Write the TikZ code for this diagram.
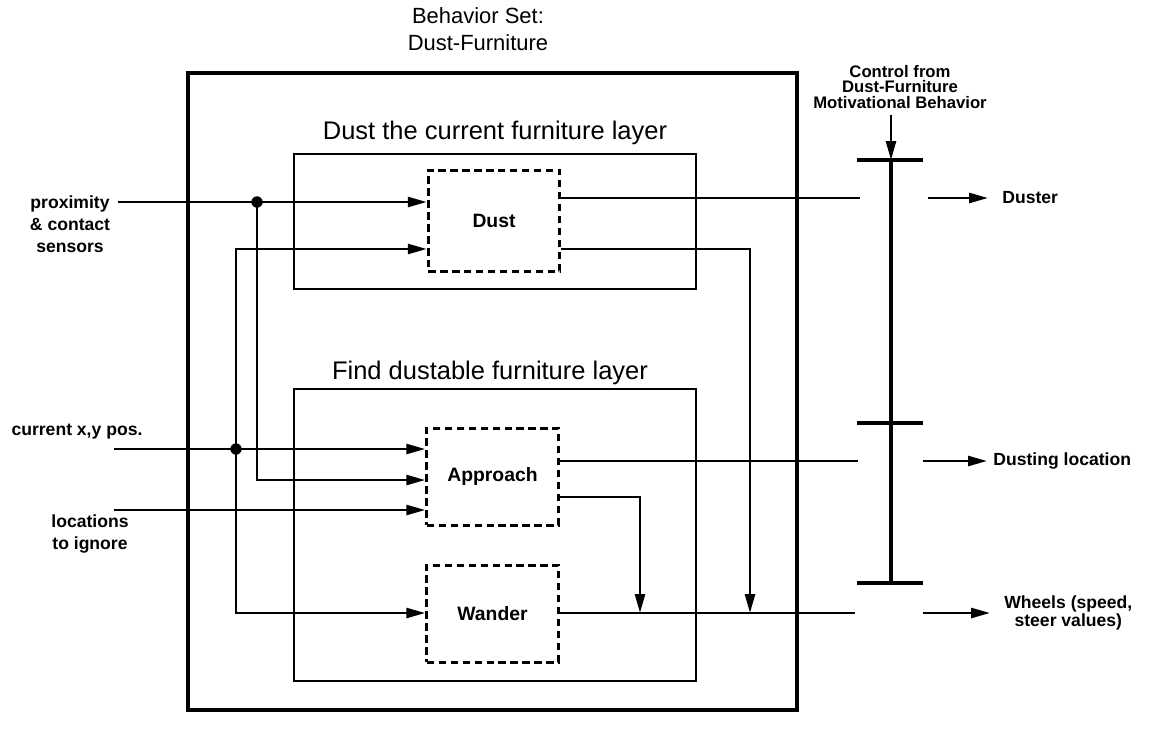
\documentclass[tikz,border=0pt]{standalone}
\usepackage{fontspec}
\setmainfont{Liberation Sans}
\usetikzlibrary{arrows.meta}
\tikzset{
  diagram/.style={x=0.2mm,y=-0.2mm},
  setbox/.style={draw,line width=2.8pt,minimum width=121.8mm,minimum height=127.4mm},
  layerbox/.style={draw,line width=1.3pt,minimum width=80.4mm},
  behaviour/.style={draw,line width=1.7pt,dash pattern=on 4.2pt off 2.6pt,
    minimum width=26.3mm,font=\bfseries\fontsize{11}{13}\selectfont},
  heading/.style={font=\fontsize{14.5}{17}\selectfont},
  signal/.style={font=\bfseries\fontsize{10}{12.5}\selectfont,align=center},
  wire/.style={line width=1.5pt},
  flow/.style={wire,-{Triangle[length=3.8mm,width=2mm]}},
  bar/.style={line width=2.3pt},
  tap/.style={circle,fill,inner sep=0pt,minimum size=6.5pt},
}

\begin{document}
\begin{tikzpicture}[diagram]
  \useasboundingbox (0,0) rectangle (1150,735);

  % behavior set and its two layers
  \node[font=\fontsize{12.5}{15}\selectfont,align=center] (settitle) at (478,29)
    {Behavior Set:\\Dust-Furniture};
  \node[setbox] (outer) at (492.5,391.5) {};
  \node[heading] (dusttitle) at (495,133) {Dust the current furniture layer};
  \node[layerbox,minimum height=27mm] (dustlayer) at (495,221.5) {};
  \node[heading] (findtitle) at (490,373) {Find dustable furniture layer};
  \node[layerbox,minimum height=58.4mm] (findlayer) at (495,535) {};

  \node[behaviour,minimum height=20.2mm] (dust) at (494,220.5) {Dust};
  \node[behaviour,minimum height=19.4mm] (approach) at (492.5,476.5) {Approach};
  \node[behaviour,minimum height=19.4mm] (wander) at (492.5,613.5) {Wander};

  % sensor inputs
  \node[signal] (proxlabel) at (70,224) {proximity\\\& contact\\sensors};
  \node[signal] (poslabel) at (77,432) {current x,y pos.};
  \node[signal] (loclabel) at (90,534) {locations\\to ignore};
  \coordinate (proxin) at (118,202);
  \coordinate (posin) at (114,449);
  \coordinate (locin) at (114,510);
  \node[tap] (proxtap) at (257,202) {};
  \node[tap] (postap) at (236,449) {};

  \draw[flow] (proxin) -- (proxin -| dust.west);
  \draw[flow] (proxtap.center) |- (approach.west |- 0,480);
  \draw[flow] (posin) -- (posin -| approach.west);
  \draw[flow] (postap.center) |- (dust.west |- 0,249);
  \draw[flow] (postap.center) |- (wander.west |- 0,613);
  \draw[flow] (locin) -- (locin -| approach.west);

  % behavior outputs
  \coordinate (dusterstop) at (860,198);
  \coordinate (locstop) at (858,461);
  \coordinate (wheelstop) at (855,613);
  \coordinate (dustmerge) at (750,613);
  \coordinate (approachmerge) at (640,613);
  \draw[wire] (dusterstop -| dust.east) -- (dusterstop);
  \draw[flow] (dust.east |- 0,249) -| (dustmerge);
  \draw[wire] (locstop -| approach.east) -- (locstop);
  \draw[flow] (approach.east |- 0,497) -| (approachmerge);
  \draw[wire] (wheelstop -| wander.east) -- (wheelstop);

  % control switch
  \node[signal,font=\bfseries\fontsize{9.5}{8.8}\selectfont] (ctrllabel) at (900,87)
    {Control from\\Dust-Furniture\\Motivational Behavior};
  \coordinate (ctop) at (891,160);
  \coordinate (cmid) at (891,423);
  \coordinate (cbot) at (891,583);
  \draw[flow] (ctrllabel.south -| ctop) -- (ctop);
  \draw[bar] (ctop) -- (cbot);
  \foreach \gate in {ctop,cmid,cbot}
    \draw[bar] ([xshift=-6.8mm]\gate) -- ([xshift=6.4mm]\gate);

  % outputs of the set
  \node[signal,anchor=west,inner xsep=2.8mm] (duster) at (988,198) {Duster};
  \node[signal,anchor=west,inner xsep=1.2mm] (dustloc) at (987,461) {Dusting location};
  \node[signal,anchor=west,inner xsep=2.8mm,font=\bfseries\fontsize{10}{10.5}\selectfont]
    (wheels) at (990,613) {Wheels (speed,\\steer values)};
  \coordinate (dusterfrom) at (928,198);
  \coordinate (dustlocfrom) at (923,461);
  \coordinate (wheelsfrom) at (923,613);
  \draw[flow] (dusterfrom) -- (duster.west);
  \draw[flow] (dustlocfrom) -- (dustloc.west);
  \draw[flow] (wheelsfrom) -- (wheels.west);
\end{tikzpicture}
\end{document}
